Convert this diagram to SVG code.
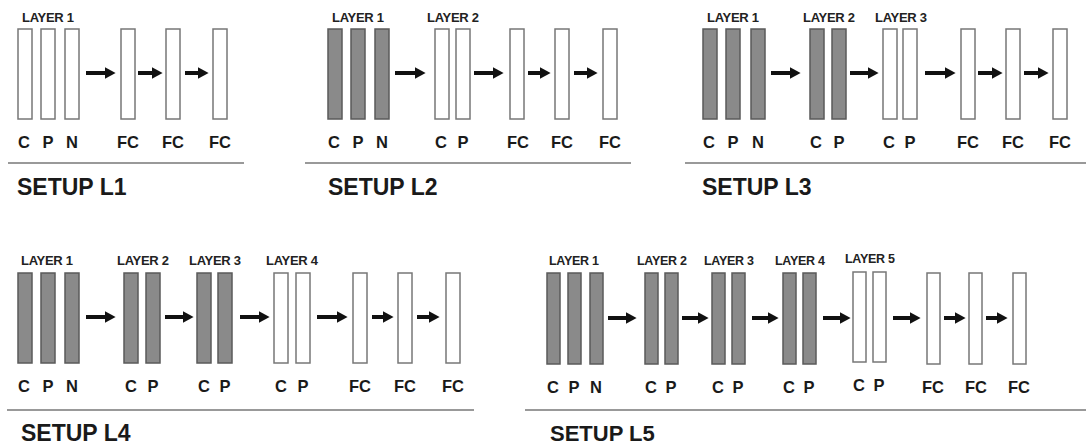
<svg xmlns="http://www.w3.org/2000/svg" width="1086" height="448" viewBox="0 0 1086 448">
<style>
.g{fill:#8a8a8a;stroke:#5a5a5a;stroke-width:1.5}
.w{fill:#ffffff;stroke:#777;stroke-width:1.5}
.ly{font-family:"Liberation Sans",Arial,sans-serif;font-weight:bold;font-size:13px;fill:#222;letter-spacing:-0.3px}
.lb{font-family:"Liberation Sans",Arial,sans-serif;font-weight:bold;font-size:16.5px;fill:#1a1a1a;text-anchor:middle}
.st{font-family:"Liberation Sans",Arial,sans-serif;font-weight:bold;font-size:23px;fill:#1a1a1a}
.sep{stroke:#999;stroke-width:2}
.ar{stroke:#111;stroke-width:4;marker-end:url(#ah)}
</style>
<defs>
<marker id="ah" markerUnits="userSpaceOnUse" markerWidth="11" markerHeight="12" refX="4" refY="5" orient="auto" viewBox="0 0 10 10" preserveAspectRatio="none">
<path d="M0,0 L10,5 L0,10 z" fill="#111"/>
</marker>
</defs>
<rect width="1086" height="448" fill="#fff"/>

<g id="setup-l1">
<text class="ly" x="22" y="22">LAYER 1</text>
<rect class="w" x="18" y="29" width="14" height="90"/>
<rect class="w" x="41" y="29" width="14" height="90"/>
<rect class="w" x="65" y="29" width="14" height="90"/>
<rect class="w" x="121" y="29" width="14" height="90"/>
<rect class="w" x="166" y="29" width="14" height="90"/>
<rect class="w" x="213" y="29" width="14" height="90"/>
<text class="lb" x="24" y="148">C</text>
<text class="lb" x="48" y="148">P</text>
<text class="lb" x="72" y="148">N</text>
<text class="lb" x="128" y="148">FC</text>
<text class="lb" x="173" y="148">FC</text>
<text class="lb" x="220" y="148">FC</text>
<line class="sep" x1="8" y1="163" x2="244" y2="163"/>
<text class="st" x="17" y="195">SETUP L1</text>
</g>

<g id="setup-l2">
<text class="ly" x="332" y="22">LAYER 1</text>
<text class="ly" x="427" y="22">LAYER 2</text>
<rect class="g" x="328" y="29" width="14" height="90"/>
<rect class="g" x="351" y="29" width="14" height="90"/>
<rect class="g" x="375" y="29" width="14" height="90"/>
<rect class="w" x="435" y="29" width="14" height="90"/>
<rect class="w" x="456" y="29" width="14" height="90"/>
<rect class="w" x="510" y="29" width="14" height="90"/>
<rect class="w" x="555" y="29" width="14" height="90"/>
<rect class="w" x="603" y="29" width="14" height="90"/>
<text class="lb" x="334" y="148">C</text>
<text class="lb" x="358" y="148">P</text>
<text class="lb" x="382" y="148">N</text>
<text class="lb" x="441" y="148">C</text>
<text class="lb" x="463" y="148">P</text>
<text class="lb" x="518" y="148">FC</text>
<text class="lb" x="562" y="148">FC</text>
<text class="lb" x="610" y="148">FC</text>
<line class="sep" x1="305" y1="163" x2="631" y2="163"/>
<text class="st" x="328" y="195">SETUP L2</text>
</g>

<g id="setup-l3">
<text class="ly" x="707" y="22">LAYER 1</text>
<text class="ly" x="803" y="22">LAYER 2</text>
<text class="ly" x="875" y="22">LAYER 3</text>
<rect class="g" x="703" y="29" width="14" height="90"/>
<rect class="g" x="726" y="29" width="14" height="90"/>
<rect class="g" x="751" y="29" width="14" height="90"/>
<rect class="g" x="810" y="29" width="14" height="90"/>
<rect class="g" x="832" y="29" width="14" height="90"/>
<rect class="w" x="883" y="29" width="14" height="90"/>
<rect class="w" x="903" y="29" width="14" height="90"/>
<rect class="w" x="961" y="29" width="14" height="90"/>
<rect class="w" x="1006" y="29" width="14" height="90"/>
<rect class="w" x="1053" y="29" width="14" height="90"/>
<text class="lb" x="709" y="148">C</text>
<text class="lb" x="733" y="148">P</text>
<text class="lb" x="758" y="148">N</text>
<text class="lb" x="816" y="148">C</text>
<text class="lb" x="839" y="148">P</text>
<text class="lb" x="889" y="148">C</text>
<text class="lb" x="910" y="148">P</text>
<text class="lb" x="968" y="148">FC</text>
<text class="lb" x="1013" y="148">FC</text>
<text class="lb" x="1060" y="148">FC</text>
<line class="sep" x1="685" y1="163" x2="1086" y2="163"/>
<text class="st" x="702" y="195">SETUP L3</text>
</g>

<g id="setup-l4">
<text class="ly" x="21" y="265">LAYER 1</text>
<text class="ly" x="117" y="265">LAYER 2</text>
<text class="ly" x="189" y="265">LAYER 3</text>
<text class="ly" x="266" y="265">LAYER 4</text>
<rect class="g" x="18" y="273" width="14" height="90"/>
<rect class="g" x="41" y="273" width="14" height="90"/>
<rect class="g" x="65" y="273" width="14" height="90"/>
<rect class="g" x="124" y="273" width="14" height="90"/>
<rect class="g" x="146" y="273" width="14" height="90"/>
<rect class="g" x="197" y="273" width="14" height="90"/>
<rect class="g" x="218" y="273" width="14" height="90"/>
<rect class="w" x="274" y="273" width="14" height="90"/>
<rect class="w" x="296" y="273" width="14" height="90"/>
<rect class="w" x="353" y="273" width="14" height="90"/>
<rect class="w" x="398" y="273" width="14" height="90"/>
<rect class="w" x="446" y="273" width="14" height="90"/>
<text class="lb" x="24" y="392">C</text>
<text class="lb" x="48" y="392">P</text>
<text class="lb" x="72" y="392">N</text>
<text class="lb" x="131" y="392">C</text>
<text class="lb" x="153" y="392">P</text>
<text class="lb" x="204" y="392">C</text>
<text class="lb" x="225" y="392">P</text>
<text class="lb" x="281" y="392">C</text>
<text class="lb" x="303" y="392">P</text>
<text class="lb" x="360" y="392">FC</text>
<text class="lb" x="405" y="392">FC</text>
<text class="lb" x="453" y="392">FC</text>
<line class="sep" x1="7" y1="410" x2="474" y2="410"/>
<text class="st" x="21" y="441">SETUP L4</text>
</g>

<g id="setup-l5">
<text class="ly" x="549" y="265" style="font-size:12.5px">LAYER 1</text>
<text class="ly" x="637" y="265" style="font-size:12.5px">LAYER 2</text>
<text class="ly" x="704" y="265" style="font-size:12.5px">LAYER 3</text>
<text class="ly" x="775" y="265" style="font-size:12.5px">LAYER 4</text>
<text class="ly" x="845" y="263" style="font-size:12.5px">LAYER 5</text>
<rect class="g" x="547" y="273" width="13" height="91"/>
<rect class="g" x="568" y="273" width="13" height="91"/>
<rect class="g" x="590" y="273" width="13" height="91"/>
<rect class="g" x="645" y="273" width="13" height="91"/>
<rect class="g" x="665" y="273" width="13" height="91"/>
<rect class="g" x="712" y="273" width="13" height="91"/>
<rect class="g" x="732" y="273" width="13" height="91"/>
<rect class="g" x="783" y="273" width="13" height="91"/>
<rect class="g" x="803" y="273" width="13" height="91"/>
<rect class="w" x="853" y="272" width="13" height="90"/>
<rect class="w" x="873" y="272" width="13" height="90"/>
<rect class="w" x="927" y="273" width="13" height="91"/>
<rect class="w" x="969" y="273" width="13" height="91"/>
<rect class="w" x="1013" y="273" width="13" height="91"/>
<text class="lb" x="553" y="393">C</text>
<text class="lb" x="574" y="393">P</text>
<text class="lb" x="596" y="393">N</text>
<text class="lb" x="651" y="393">C</text>
<text class="lb" x="671" y="393">P</text>
<text class="lb" x="718" y="393">C</text>
<text class="lb" x="738" y="393">P</text>
<text class="lb" x="789" y="393">C</text>
<text class="lb" x="809" y="393">P</text>
<text class="lb" x="859" y="391">C</text>
<text class="lb" x="879" y="391">P</text>
<text class="lb" x="933" y="393">FC</text>
<text class="lb" x="976" y="393">FC</text>
<text class="lb" x="1019" y="393">FC</text>
<line class="sep" x1="525" y1="410" x2="1086" y2="410"/>
<text class="st" x="550" y="441" style="font-size:22px">SETUP L5</text>
</g>

<g id="connectors">
<line class="ar" x1="86" y1="73" x2="109" y2="73"/>
<line class="ar" x1="138" y1="73" x2="156" y2="73"/>
<line class="ar" x1="185" y1="73" x2="202" y2="73"/>

<line class="ar" x1="395" y1="73" x2="419" y2="73"/>
<line class="ar" x1="474" y1="73" x2="497" y2="73"/>
<line class="ar" x1="528" y1="73" x2="544" y2="73"/>
<line class="ar" x1="574" y1="73" x2="591" y2="73"/>

<line class="ar" x1="771" y1="73" x2="794" y2="73"/>
<line class="ar" x1="850" y1="73" x2="872" y2="73"/>
<line class="ar" x1="925" y1="73" x2="949" y2="73"/>
<line class="ar" x1="978" y1="73" x2="996" y2="73"/>
<line class="ar" x1="1024" y1="73" x2="1042" y2="73"/>

<line class="ar" x1="86" y1="317" x2="109" y2="317"/>
<line class="ar" x1="165" y1="317" x2="187" y2="317"/>
<line class="ar" x1="240" y1="317" x2="263" y2="317"/>
<line class="ar" x1="317" y1="317" x2="341" y2="317"/>
<line class="ar" x1="372" y1="317" x2="387" y2="317"/>
<line class="ar" x1="417" y1="317" x2="433" y2="317"/>

<line class="ar" x1="608" y1="318" x2="630" y2="318"/>
<line class="ar" x1="682" y1="318" x2="702" y2="318"/>
<line class="ar" x1="752" y1="318" x2="772" y2="318"/>
<line class="ar" x1="823" y1="318" x2="844" y2="318"/>
<line class="ar" x1="893" y1="318" x2="914" y2="318"/>
<line class="ar" x1="944" y1="318" x2="959" y2="318"/>
<line class="ar" x1="986" y1="318" x2="1001" y2="318"/>
</g>
</svg>
